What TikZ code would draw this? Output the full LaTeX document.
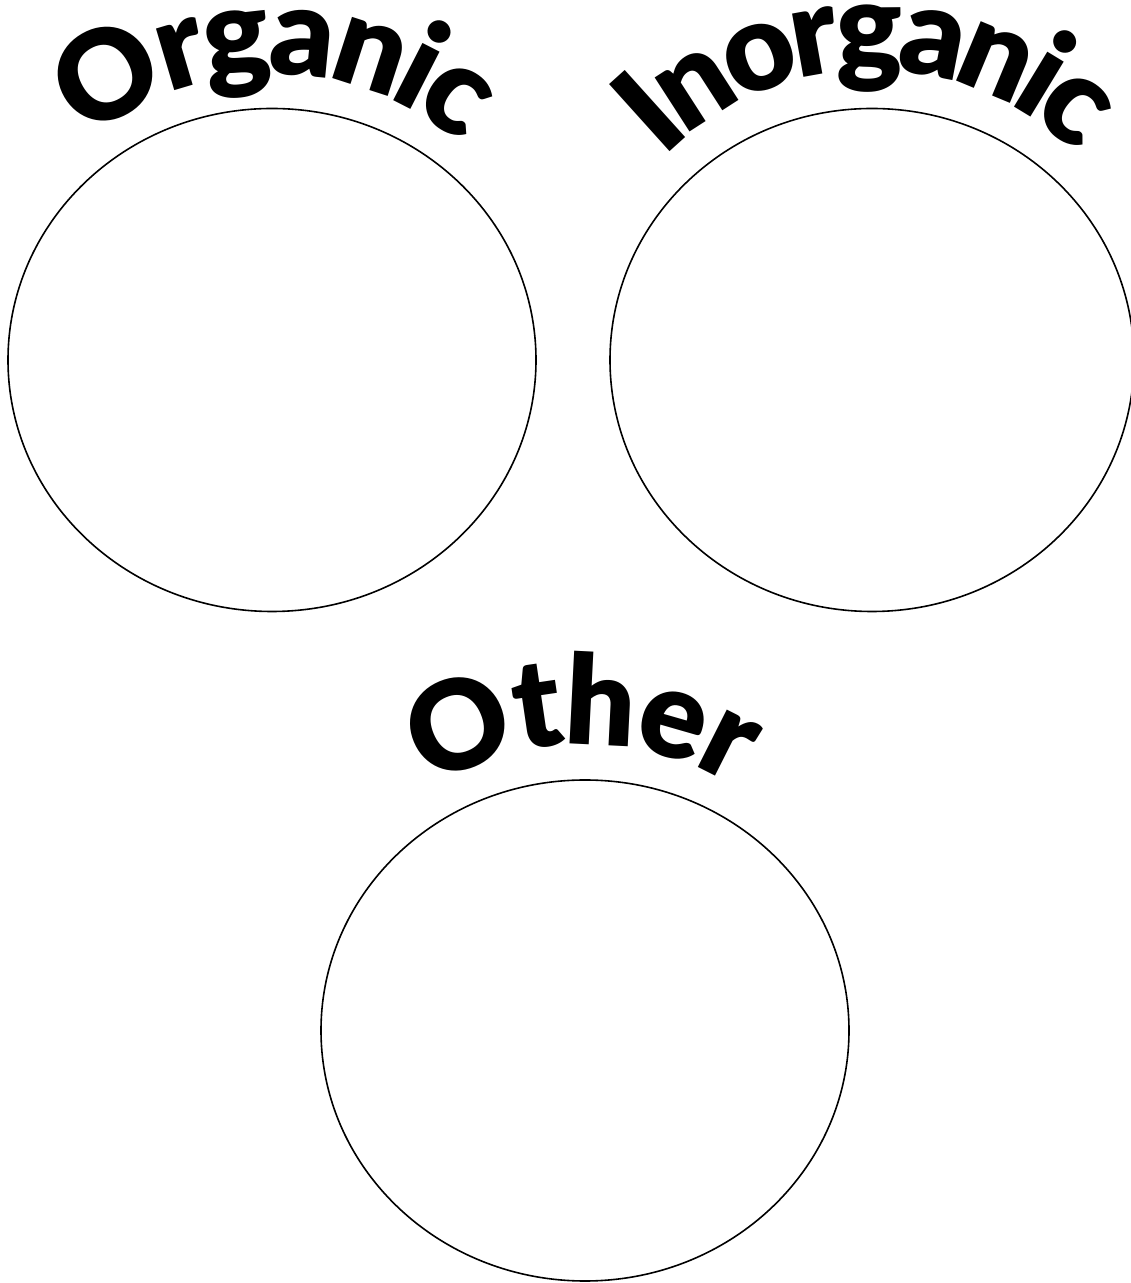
\documentclass[tikz,border=0pt]{standalone}
\usepackage{fontspec}
\newfontfamily\labelfont{Lato Black}
\usetikzlibrary{shapes.geometric,calc,decorations.text}

\tikzset{
  bin/.style={draw, ellipse, line width=1.6pt, inner sep=0pt,
    minimum width=528pt, minimum height=503pt},
  arclabel/.style 2 args={font=\labelfont\fontsize{124}{150}\selectfont,
    decorate, decoration={text effects along path, text={#1},
      text align=center, text effects/.cd, text along path,
      character widths={inner xsep=#2}}}
}

\begin{document}
\begin{tikzpicture}[x=1pt,y=1pt]
  \useasboundingbox (0,0) rectangle (1131,1283);
  % the three sorting circles
  \node[bin] (organic) at (272,923) {};
  \node[bin, minimum width=524pt] (inorganic) at (872,923) {};
  \node[bin, minimum height=501pt] (other) at (585,252.5) {};
  % curved titles, on circles round the same centres
  \path[arclabel={Organic}{-3pt}] ($(organic.center)+(159.5:286)$)
    arc[start angle=159.5, end angle=19.5, radius=286];
  \path[arclabel={Inorganic}{-4pt}] ($(inorganic.center)+(160.5:290)$)
    arc[start angle=160.5, end angle=20.5, radius=290];
  \path[arclabel={Other}{-1.6pt}] ($(other.center)+(160.6:286)$)
    arc[start angle=160.6, end angle=20.6, radius=286];
\end{tikzpicture}
\end{document}
